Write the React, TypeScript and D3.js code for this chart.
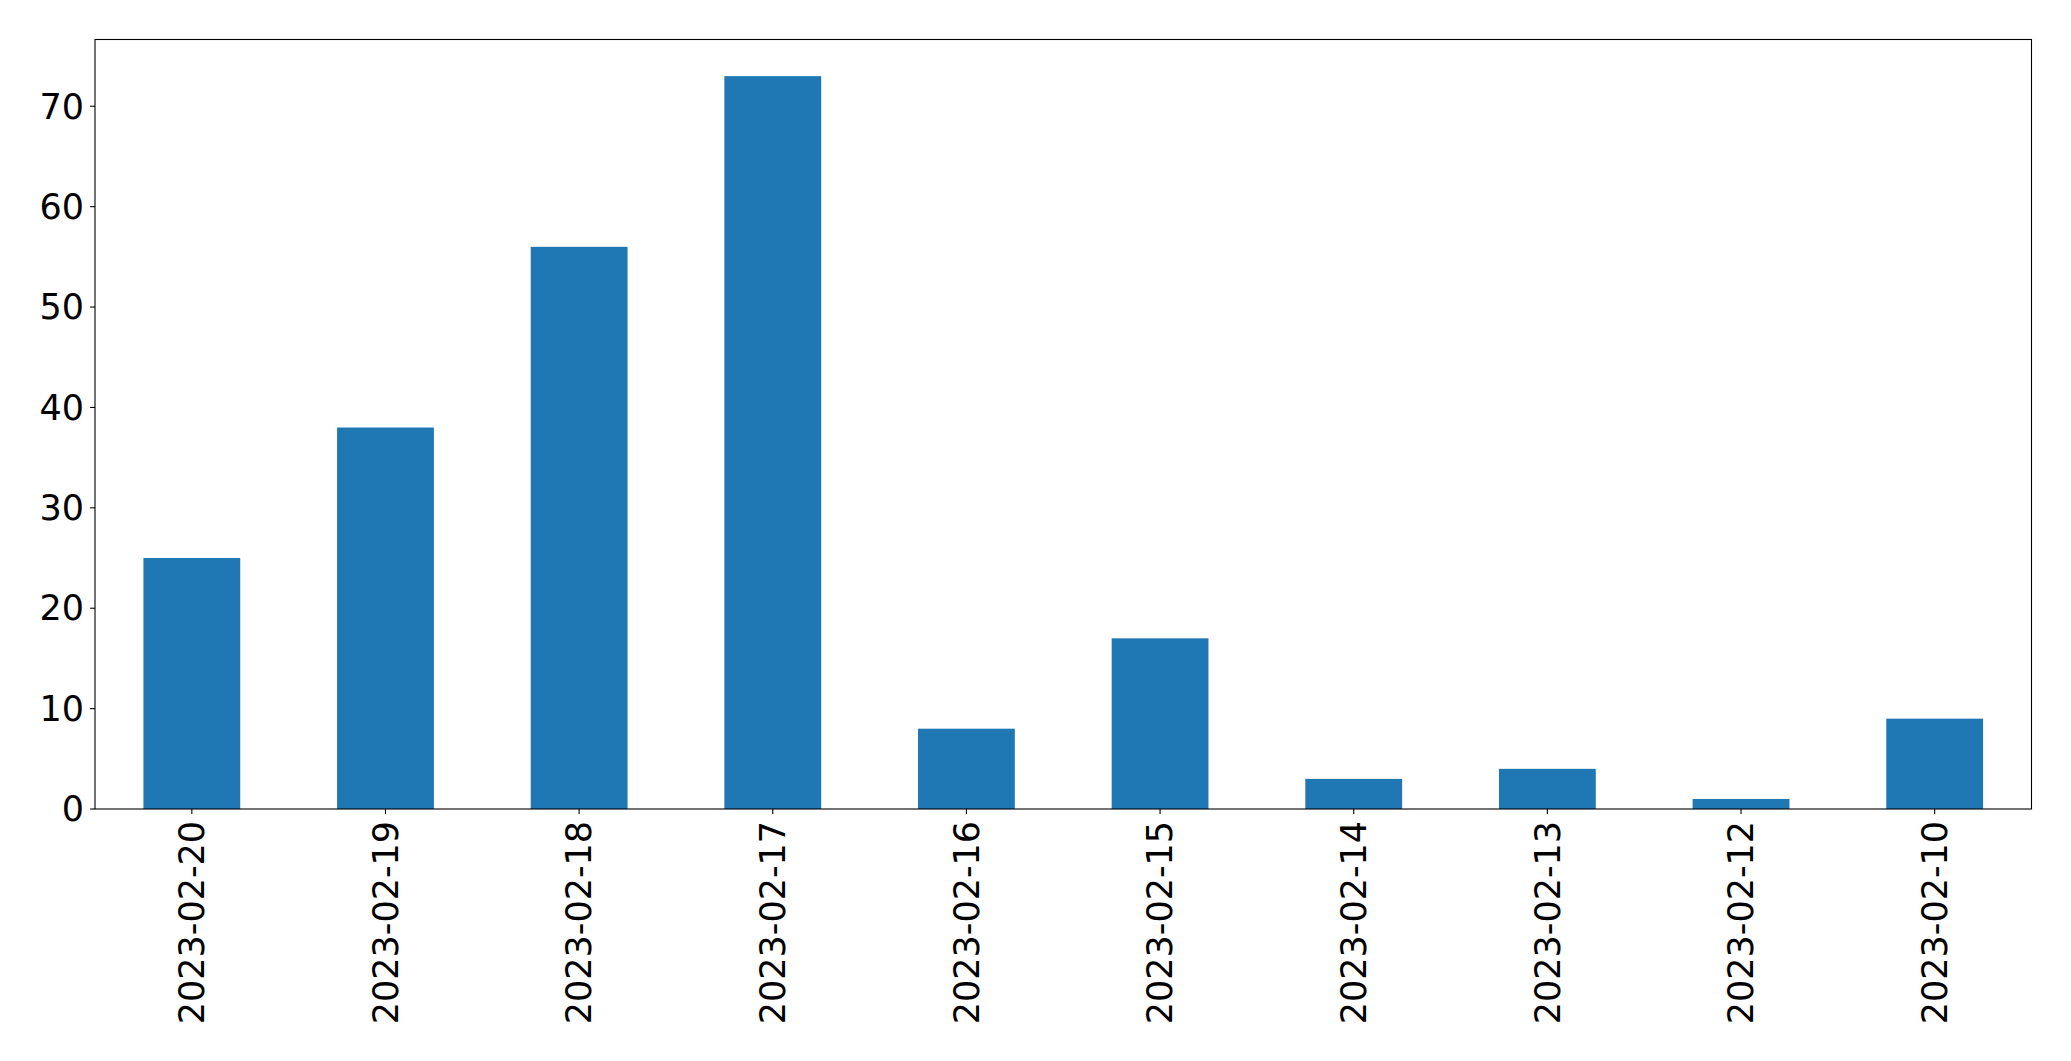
import React from "react";
import * as d3 from "d3";

const categories = ["2023-02-20", "2023-02-19", "2023-02-18", "2023-02-17", "2023-02-16", "2023-02-15", "2023-02-14", "2023-02-13", "2023-02-12", "2023-02-10"];
const values = [25, 38, 56, 73, 8, 17, 3, 4, 1, 9];
const yTicks = [0, 10, 20, 30, 40, 50, 60, 70];

export default function App() {
  const W = 2071, H = 1061;
  const left = 95, right = 2031.5, top = 39.5, bottom = 809;
  const x = d3.scaleBand<string>().domain(categories).range([left, right]).paddingInner(0.5).paddingOuter(0.25);
  const y = d3.scaleLinear().domain([0, d3.max(values)! * 1.05]).range([bottom, top]);
  const font = "'DejaVu Sans', sans-serif";
  const fs = 35;
  const tick = 4.9;
  return (
    <svg width={W} height={H} style={{ position: "absolute", left: 0, top: 0, background: "#fff" }}>
      <rect x={0} y={0} width={W} height={H} fill="#fff" />
      {categories.map((c, i) => (
        <rect key={c} x={x(c)!} y={y(values[i])} width={x.bandwidth()} height={bottom - y(values[i])} fill="#1f77b4" />
      ))}
      <rect x={left} y={top} width={right - left} height={bottom - top} fill="none" stroke="#000" strokeWidth={1.1} />
      {yTicks.map((t) => (
        <g key={t}>
          <line x1={left - tick} x2={left} y1={y(t)} y2={y(t)} stroke="#000" strokeWidth={1.1} />
          <text x={left - tick - 6} y={y(t)} dy="0.35em" textAnchor="end" fontFamily={font} fontSize={fs} fill="#000">{t}</text>
        </g>
      ))}
      {categories.map((c) => {
        const cx = x(c)! + x.bandwidth() / 2;
        return (
          <g key={c}>
            <line x1={cx} x2={cx} y1={bottom} y2={bottom + tick} stroke="#000" strokeWidth={1.1} />
            <text transform={`translate(${cx},${bottom + tick + 7}) rotate(-90)`} dy="0.35em" textAnchor="end" fontFamily={font} fontSize={fs} fill="#000">{c}</text>
          </g>
        );
      })}
    </svg>
  );
}
